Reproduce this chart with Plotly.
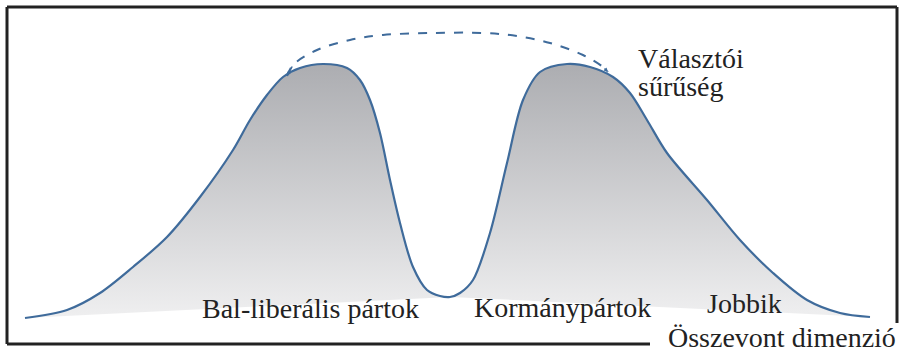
import plotly.graph_objects as go

# positions along the combined dimension and voter density (arbitrary units)
left_x = [25, 67, 100, 133, 167, 200, 233, 250, 267, 283, 300, 323, 347, 360, 370,
          380, 390, 400, 413, 427, 440, 450]
left_density = [33, 41, 58, 84, 114, 154, 201, 231, 256, 274, 283, 287, 283, 271, 251,
                218, 171, 128, 84, 61, 55, 54]

right_x = [450, 460, 473, 490, 507, 523, 540, 567, 590, 613, 630, 647, 667, 707, 740,
           773, 807, 840, 870]
right_density = [54, 58, 71, 118, 188, 251, 279, 287, 284, 274, 258, 231, 198, 151, 111,
                 78, 51, 38, 34]

# hypothetical single-peaked density (dashed arc)
arc_x = [287, 293, 317, 350, 383, 433, 483, 517, 550, 583, 603, 608]
arc_density = [275, 286, 301, 311, 316, 318, 318, 315, 308, 296, 284, 279]

labels = ["Bal-liberális pártok", "Kormánypártok", "Jobbik"]
label_x = [200, 472, 705]
label_y = [43, 44, 48]

BLUE = "#3f6b9b"
FONT = "Liberation Serif"
W, H = 906, 351

fig = go.Figure()

gradient = dict(type="vertical", colorscale=[[0, "#efeff0"], [1, "#acadb1"]])

# shaded humps, each closed by a straight base line
fig.add_trace(go.Scatter(
    x=left_x, y=left_density, mode="none", fill="toself",
    fillgradient=gradient, line_shape="spline", hoverinfo="skip"
))
fig.add_trace(go.Scatter(
    x=right_x, y=right_density, mode="none", fill="toself",
    fillgradient=gradient, line_shape="spline", hoverinfo="skip"
))

# density outline
fig.add_trace(go.Scatter(
    x=left_x + right_x[1:], y=left_density + right_density[1:],
    mode="lines", line=dict(color=BLUE, width=2.2, shape="spline", smoothing=0.9),
    hoverinfo="skip"
))

# dashed arc
fig.add_trace(go.Scatter(
    x=arc_x, y=arc_density, mode="lines",
    line=dict(color=BLUE, width=2, dash="dash", shape="spline"),
    hoverinfo="skip"
))

# tiny arrowheads at both ends of the arc
for i, j in [(0, 1), (-1, -2)]:
    fig.add_annotation(x=arc_x[i], y=arc_density[i], ax=arc_x[j], ay=arc_density[j],
                       xref="x", yref="y", axref="x", ayref="y", text="",
                       showarrow=True, arrowhead=2, arrowsize=0.55, arrowwidth=1.5,
                       arrowcolor=BLUE)

font = dict(family=FONT, size=28, color="#222")
for txt, lx, ly in zip(labels, label_x, label_y):
    fig.add_annotation(x=lx, y=ly, text=txt, showarrow=False, xanchor="left",
                       yanchor="middle", font=font)

fig.add_annotation(x=636, y=293, text="Választói", showarrow=False, xanchor="left",
                   yanchor="middle", font=font)
fig.add_annotation(x=636, y=265, text="sűrűség", showarrow=False, xanchor="left",
                   yanchor="middle", font=font)
fig.add_annotation(x=666, y=14, text="Összevont dimenzió", showarrow=False, xanchor="left",
                   yanchor="middle", font=font)

# frame (open at bottom right for the axis title)
frame = dict(type="line", xref="x", yref="y", line=dict(color="#222", width=3))
fig.add_shape(x0=7, y0=344, x1=897, y1=344, **frame)
fig.add_shape(x0=7, y0=344, x1=7, y1=7, **frame)
fig.add_shape(x0=897, y0=344, x1=897, y1=28, **frame)
fig.add_shape(x0=7, y0=7, x1=650, y1=7, **frame)

fig.update_layout(
    width=W, height=H,
    margin=dict(l=0, r=0, t=0, b=0),
    paper_bgcolor="white", plot_bgcolor="white",
    showlegend=False,
    xaxis=dict(range=[0, W], visible=False, fixedrange=True),
    yaxis=dict(range=[0, H], visible=False, fixedrange=True),
)

fig.write_html("out.html", config={"displayModeBar": False},
               post_script="document.body.style.margin='0';")
